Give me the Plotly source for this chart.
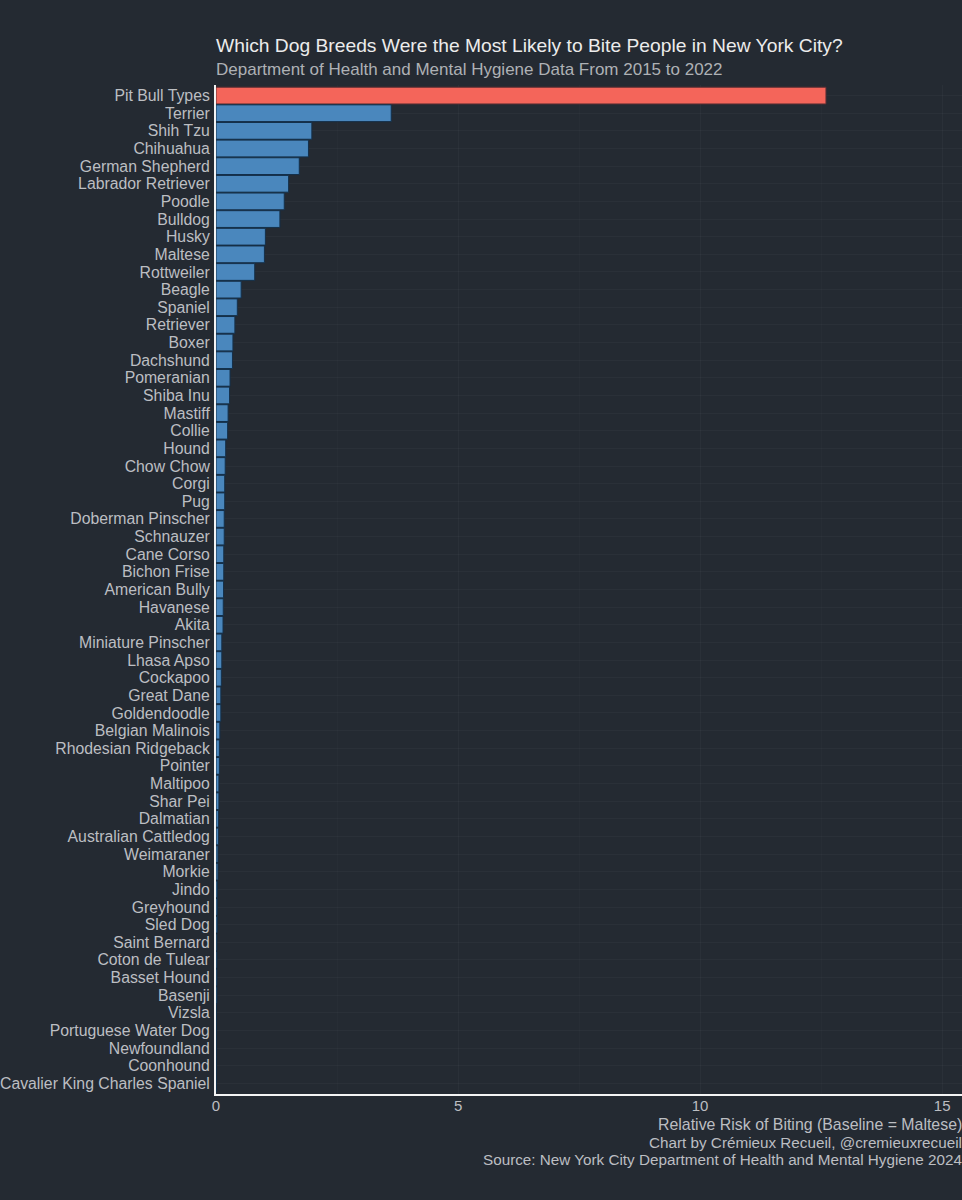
import plotly.graph_objects as go

breeds = ["Pit Bull Types","Terrier","Shih Tzu","Chihuahua","German Shepherd","Labrador Retriever","Poodle","Bulldog","Husky","Maltese","Rottweiler","Beagle","Spaniel","Retriever","Boxer","Dachshund","Pomeranian","Shiba Inu","Mastiff","Collie","Hound","Chow Chow","Corgi","Pug","Doberman Pinscher","Schnauzer","Cane Corso","Bichon Frise","American Bully","Havanese","Akita","Miniature Pinscher","Lhasa Apso","Cockapoo","Great Dane","Goldendoodle","Belgian Malinois","Rhodesian Ridgeback","Pointer","Maltipoo","Shar Pei","Dalmatian","Australian Cattledog","Weimaraner","Morkie","Jindo","Greyhound","Sled Dog","Saint Bernard","Coton de Tulear","Basset Hound","Basenji","Vizsla","Portuguese Water Dog","Newfoundland","Coonhound","Cavalier King Charles Spaniel"]
risk = [12.6,3.62,1.98,1.91,1.72,1.5,1.41,1.32,1.02,1.0,0.8,0.52,0.44,0.39,0.35,0.34,0.29,0.28,0.25,0.24,0.2,0.19,0.18,0.18,0.17,0.17,0.16,0.16,0.155,0.15,0.145,0.12,0.12,0.11,0.10,0.10,0.08,0.07,0.07,0.06,0.06,0.05,0.05,0.04,0.04,0.03,0.03,0.03,0.02,0.02,0.02,0.02,0.01,0.01,0.01,0.01,0.01]
x_ticks = [0, 5, 10, 15]
title = "Which Dog Breeds Were the Most Likely to Bite People in New York City?"
subtitle = "Department of Health and Mental Hygiene Data From 2015 to 2022"
captions = ["Relative Risk of Biting (Baseline = Maltese)", "Chart by Crémieux Recueil, @cremieuxrecueil", "Source: New York City Department of Health and Mental Hygiene 2024"]
caption_sizes = [15.9, 15.25, 15.25]

BG = "#242a32"
FONT = "Liberation Sans"
H = 1200; W = 962
colors = ["#f4655a"] + ["#4a87bd"] * (len(breeds) - 1)
line_colors = ["#5a2e33"] + ["#14304a"] * (len(breeds) - 1)
TXT = "#bcbec2"

fig = go.Figure(go.Bar(x=risk, y=breeds, orientation="h", marker=dict(color=colors, line=dict(color=line_colors, width=1)), width=0.95))
fig.update_layout(
    width=W, height=H, autosize=False, paper_bgcolor=BG, plot_bgcolor=BG, showlegend=False,
    margin=dict(l=216, r=0, t=85, b=106), font=dict(family=FONT, color=TXT, size=15.8),
    xaxis=dict(range=[0, 15.41], tickvals=x_ticks, showline=True, linecolor="#f4f4f4", linewidth=2, ticks="", gridcolor="rgba(255,255,255,0.03)", gridwidth=1, zeroline=False, ticklabelstandoff=-3,
               minor=dict(tickvals=[2.5, 7.5, 12.5], showgrid=True, gridcolor="rgba(255,255,255,0.015)"), tickfont=dict(size=15, color=TXT)),
    yaxis=dict(categoryorder="array", categoryarray=breeds[::-1], range=[-0.6, 56.6], showline=True, linecolor="#f4f4f4", linewidth=2, ticks="", ticklen=0, ticklabelstandoff=1, gridcolor="rgba(255,255,255,0.03)", gridwidth=1, zeroline=False, tickmode="linear", dtick=1, tickfont=dict(size=15.8, color=TXT)),
)
fig.add_annotation(text=title, xref="paper", yref="paper", x=0, y=1, xanchor="left", yanchor="bottom", yshift=27, xshift=-2, showarrow=False, font=dict(size=19.25, color="#ececec"))
fig.add_annotation(text=subtitle, xref="paper", yref="paper", x=0, y=1, xanchor="left", yanchor="bottom", yshift=4, xshift=-2, showarrow=False, font=dict(size=17, color="#aeb1b5"))
for i, c in enumerate(captions):
    fig.add_annotation(text=c, xref="paper", yref="paper", x=1, y=0, xanchor="right", yanchor="top", yshift=-20 - i * 17.5, xshift=2, showarrow=False, font=dict(size=caption_sizes[i], color=TXT))
fig.write_html("out.html", config=dict(displayModeBar=False), post_script="document.body.style.margin='0';document.documentElement.style.background='#242a32';")
